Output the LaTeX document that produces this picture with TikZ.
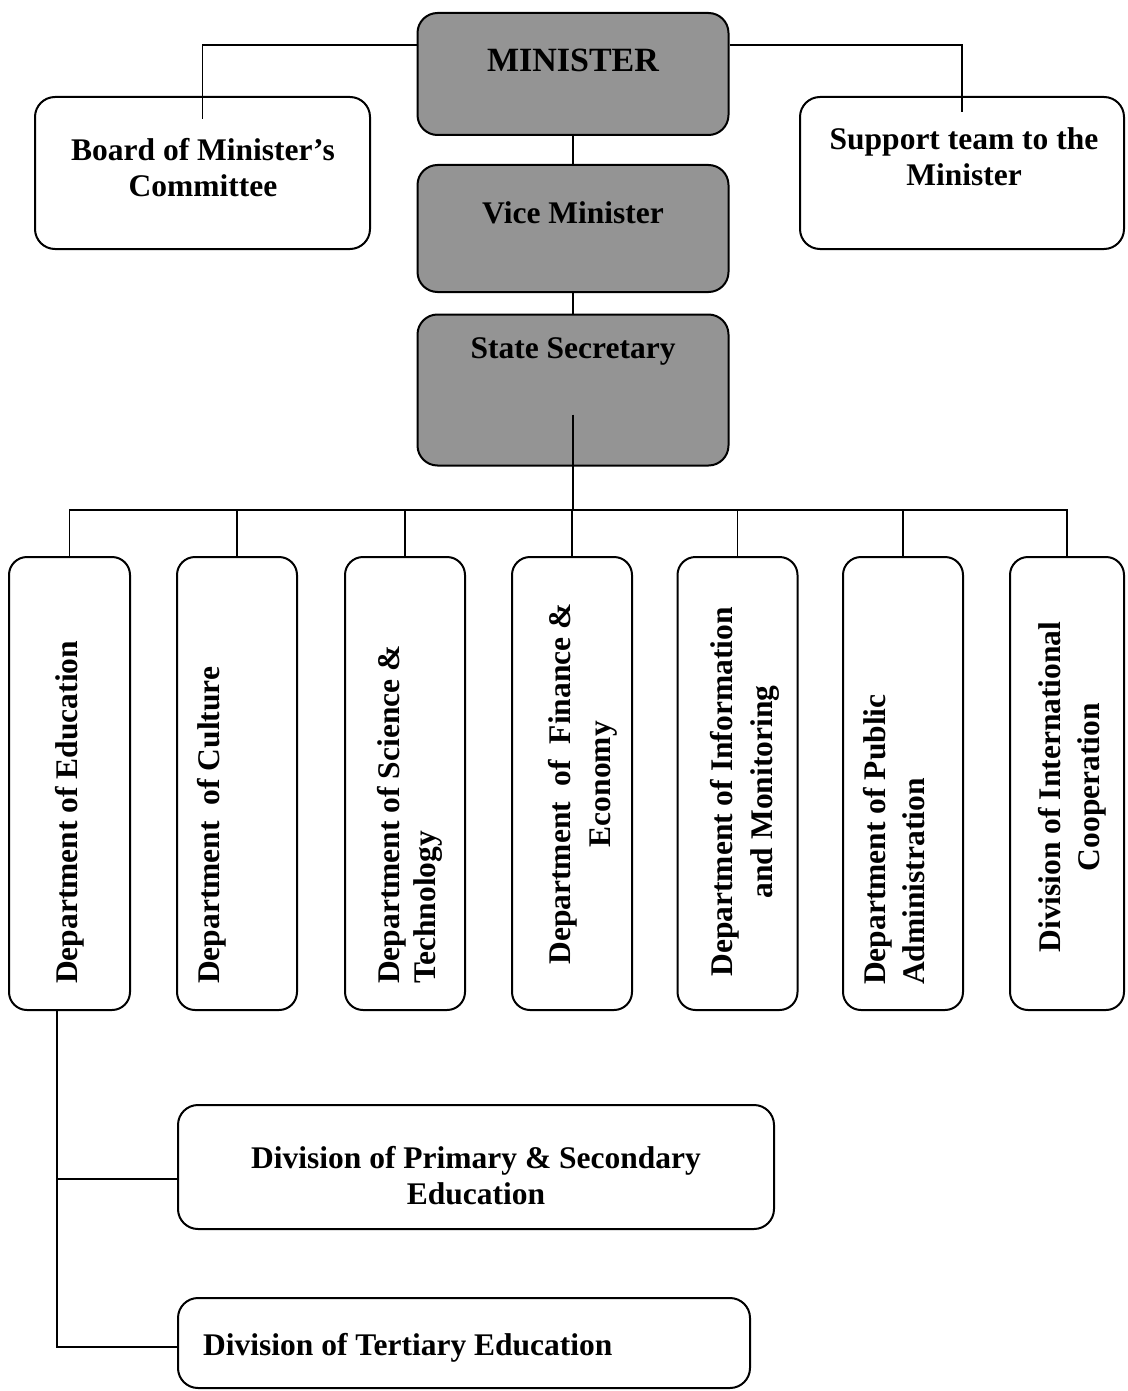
\documentclass[tikz,border=0pt]{standalone}
\usepackage{fontspec}
\setmainfont{Liberation Serif}
\begin{document}
\begin{tikzpicture}[x=1pt,y=-1pt,
  box/.style={draw, line width=2pt, rounded corners=20pt, inner sep=0pt},
  shadebox/.style={box, fill=black!42},
  dept/.style={draw, line width=2pt, rounded corners=18pt, inner sep=0pt, minimum height=453pt},
  link/.style={line width=1.7pt},
  lbl/.style={font=\bfseries\fontsize{31.5}{36}\selectfont, inner sep=0pt},
  vlbl/.style={lbl, rotate=90}
]
\useasboundingbox (0,0) rectangle (1127,1391);

% top level
\node[shadebox, minimum width=311pt, minimum height=122pt] (minister) at (573,74) {};
\node[shadebox, minimum width=311pt, minimum height=127pt] (vice) at (573,228.5) {};
\node[shadebox, minimum width=311pt, minimum height=151pt] (state) at (573,390) {};
\node[box, minimum width=335pt, minimum height=152pt] (board) at (202.5,173) {};
\node[box, minimum width=324pt, minimum height=152pt] (support) at (962,173) {};

\node[lbl, font=\bfseries\fontsize{34}{38}\selectfont] (tminister) at (573,60) {MINISTER};
\node[lbl] (tvice) at (573,213) {Vice Minister};
\node[lbl] (tstate) at (573,351) {State Secretary};
\node[lbl, align=center] (tboard) at (203,168) {Board of Minister's\\Committee};
\node[lbl, align=center] (tsupport) at (964,157) {Support team to the\\Minister};

% departments
\node[dept, minimum width=121pt] (d1) at (69.5,783.5) {};
\node[dept, minimum width=120pt] (d2) at (237,783.5) {};
\node[dept, minimum width=120pt] (d3) at (405,783.5) {};
\node[dept, minimum width=120pt] (d4) at (572,783.5) {};
\node[dept, minimum width=120pt] (d5) at (737.5,783.5) {};
\node[dept, minimum width=120pt] (d6) at (903,783.5) {};
\node[dept, minimum width=114pt] (d7) at (1067,783.5) {};

\node[vlbl, anchor=west] (t1) at (70,984) {Department of Education};
\node[vlbl, anchor=west] (t2) at (212,984) {Department~~of Culture};
\node[vlbl, anchor=west, align=left, font=\bfseries\fontsize{31.5}{36}\selectfont] (t3) at (410,984) {Department of Science \&\\Technology};
\node[vlbl, align=center, font=\bfseries\fontsize{31.5}{40}\selectfont] (t4) at (583,784) {Department~~of~~Finance \&\\Economy};
\node[vlbl, align=center, font=\bfseries\fontsize{31.5}{40}\selectfont] (t5) at (745,792) {Department of Information\\and Monitoring};
\node[vlbl, anchor=west, align=left, font=\bfseries\fontsize{31.5}{39}\selectfont] (t6) at (894,985) {Department of Public\\Administration};
\node[vlbl, align=center, font=\bfseries\fontsize{31.5}{39}\selectfont] (t7) at (1072,787) {Division of International\\Cooperation};

% divisions
\node[box, minimum width=596pt, minimum height=124pt] (primary) at (476,1167) {};
\node[box, minimum width=572pt, minimum height=90pt] (tertiary) at (464,1343) {};
\node[lbl, align=center] (tprimary) at (476,1176) {Division of Primary \& Secondary\\Education};
\node[lbl, anchor=west] (ttertiary) at (203,1348) {Division of Tertiary Education};

% connectors
\coordinate (topbar) at (0,45);
\coordinate (bus) at (0,510);
\coordinate (edux) at (57,0);

\draw[link] ([yshift=-23pt]board.north) -- (board.north |- topbar) -- (minister.west |- topbar);
\draw[link] (minister.east |- topbar) -- (support.north |- topbar) -- ([yshift=-16pt]support.north);
\draw[link] (minister.south) -- (vice.north);
\draw[link] (vice.south) -- (state.north);
\draw[link] ([yshift=52pt]state.south) -- (state.south |- bus);
\draw[link] (d1.north) -- (d1.north |- bus) -- (d7.north |- bus) -- (d7.north);
\foreach \d in {d2,d3,d4,d5,d6} \draw[link] (\d.north) -- (\d.north |- bus);
\draw[link] (d1.south -| edux) |- ([yshift=-12pt]primary.west);
\draw[link] (d1.south -| edux) |- ([yshift=-4pt]tertiary.west);
\end{tikzpicture}
\end{document}
